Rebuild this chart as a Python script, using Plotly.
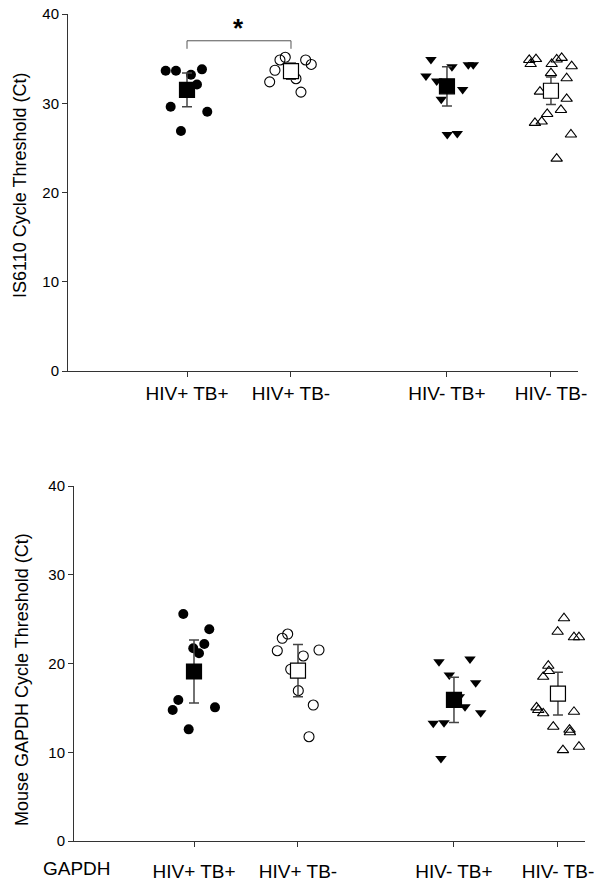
import plotly.graph_objects as go

W, H = 604, 884

categories = ["HIV+ TB+", "HIV+ TB-", "HIV- TB+", "HIV- TB-"]
cat_pos = [1, 2, 3.5, 4.5]

# ---- IS6110 (top panel) ----
is_hpt_pos_vals = [33.65, 33.65, 33.8, 33.2, 32.1, 29.6, 29.05, 26.9]
is_hpt_pos_jit = [-0.205, -0.106, 0.144, 0.038, 0.096, -0.157, 0.195, -0.058]
is_hpt_neg_vals = [34.85, 35.15, 34.85, 34.35, 33.7, 32.4, 32.75, 31.25]
is_hpt_neg_jit = [-0.106, -0.055, 0.141, 0.195, -0.154, -0.205, 0.048, 0.096]
is_hmt_pos_vals = [34.9, 34.1, 34.3, 34.3, 33.05, 32.5, 31.55, 30.45, 26.5, 26.6]
is_hmt_pos_jit = [-0.154, 0.048, 0.205, 0.253, -0.202, -0.099, 0.151, -0.055, 0.003, 0.099]
is_hmt_neg_vals = [34.85, 34.4, 34.95, 34.4, 34.9, 35.08, 34.15, 33.37, 32.8, 31.3,
                   30.5, 28.8, 29.25, 27.8, 27.95, 26.5, 23.8]
is_hmt_neg_jit = [-0.209, -0.195, -0.144, 0.007, 0.055, 0.103, 0.199, 0.0, 0.151, -0.106,
                  0.151, -0.036, 0.096, -0.154, -0.089, 0.192, 0.055]
is_means = [31.5, 33.6, 31.9, 31.4]
is_errs = [1.9, 0.9, 2.2, 1.55]

# ---- GAPDH (bottom panel) ----
ga_hpt_pos_vals = [25.58, 23.85, 22.2, 21.71, 21.15, 15.89, 14.76, 15.06, 12.58]
ga_hpt_pos_jit = [-0.103, 0.147, 0.099, -0.007, 0.048, -0.151, -0.205, 0.202, -0.051]
ga_hpt_neg_vals = [23.32, 22.84, 21.44, 20.85, 21.52, 19.35, 16.94, 15.32, 11.75]
ga_hpt_neg_jit = [-0.099, -0.151, -0.199, 0.051, 0.202, -0.07, 0.003, 0.147, 0.106]
ga_hmt_pos_vals = [20.2, 20.5, 18.7, 17.84, 15.13, 14.46, 13.26, 13.33, 16.26, 9.3]
ga_hmt_pos_jit = [-0.144, 0.154, -0.045, 0.209, 0.106, 0.257, -0.199, -0.096, 0.051, -0.125]
ga_hmt_neg_vals = [25.1, 23.58, 22.96, 22.96, 19.75, 19.15, 18.5, 15.06, 14.76, 14.39,
                   14.56, 12.88, 12.54, 12.26, 10.24, 10.62]
ga_hmt_neg_jit = [0.058, -0.003, 0.154, 0.202, -0.093, -0.087, -0.142, -0.206, -0.19, -0.142,
                  0.154, -0.045, 0.111, 0.115, 0.048, 0.202]
ga_means = [19.1, 19.2, 15.9, 16.6]
ga_errs = [3.55, 2.95, 2.55, 2.4]

# significance bracket (top panel, between the two HIV+ groups)
sig_level = 37.0
sig_drop = 0.9
sig_label = "<b>*</b>"

y_ticks = [0, 10, 20, 30, 40]
top_ytitle = "IS6110 Cycle Threshold (Ct)"
bot_ytitle = "Mouse GAPDH Cycle Threshold (Ct)"
bot_corner_label = "GAPDH"

FONT = "Arial, Liberation Sans, sans-serif"
INK = "#000000"
AXC = "#333333"
ERRC = "#444444"

symbols_pts = ["circle", "circle-open", "triangle-down", "triangle-up-open"]
sizes_pts = [10, 10, 10, 10]
fill_mean = ["black", "white", "black", "white"]


def px_x(p):
    return p / W


def px_y(p):
    return 1 - p / H


fig = go.Figure()

panels = [
    ("x", "y",
     [(is_hpt_pos_vals, is_hpt_pos_jit), (is_hpt_neg_vals, is_hpt_neg_jit),
      (is_hmt_pos_vals, is_hmt_pos_jit), (is_hmt_neg_vals, is_hmt_neg_jit)],
     is_means, is_errs),
    ("x2", "y2",
     [(ga_hpt_pos_vals, ga_hpt_pos_jit), (ga_hpt_neg_vals, ga_hpt_neg_jit),
      (ga_hmt_pos_vals, ga_hmt_pos_jit), (ga_hmt_neg_vals, ga_hmt_neg_jit)],
     ga_means, ga_errs),
]

for xa, ya, groups, means, errs in panels:
    for gi, (vals, jit) in enumerate(groups):
        sym = symbols_pts[gi]
        is_open = sym.endswith("open")
        fig.add_trace(go.Scatter(
            x=[cat_pos[gi] + j for j in jit], y=vals, mode="markers",
            xaxis=xa, yaxis=ya, showlegend=False, hoverinfo="skip",
            marker=dict(symbol=sym, size=sizes_pts[gi], color=INK,
                        line=dict(color=INK, width=1.1 if is_open else 0)),
        ))
    for gi in range(4):
        fig.add_trace(go.Scatter(
            x=[cat_pos[gi]], y=[means[gi]], mode="markers",
            xaxis=xa, yaxis=ya, showlegend=False, hoverinfo="skip",
            error_y=dict(type="data", array=[errs[gi]], visible=True,
                         color=ERRC, thickness=1.5, width=5),
            marker=dict(symbol="square", size=15, color=fill_mean[gi],
                        line=dict(color=INK, width=1.2)),
        ))

# significance bracket
fig.add_trace(go.Scatter(
    x=[cat_pos[0], cat_pos[0], cat_pos[1], cat_pos[1]],
    y=[sig_level - sig_drop, sig_level, sig_level, sig_level - sig_drop],
    mode="lines", line=dict(color="#555555", width=1),
    xaxis="x", yaxis="y", showlegend=False, hoverinfo="skip",
))

xr = [-0.202, 4.76]

axis_common = dict(showgrid=False, zeroline=False, showline=True, linecolor=AXC,
                   linewidth=1, ticks="outside", tickcolor=AXC, ticklen=5)

fig.update_layout(
    width=W, height=H,
    margin=dict(l=0, r=0, t=0, b=0, autoexpand=False),
    paper_bgcolor="white", plot_bgcolor="white",
    font=dict(family=FONT, color=INK),
    xaxis=dict(domain=[px_x(62), px_x(578)], range=xr, anchor="y",
               tickvals=cat_pos, ticktext=categories,
               tickfont=dict(size=19, family=FONT, color=INK),
               **axis_common),
    yaxis=dict(domain=[px_y(371), px_y(14)], range=[0, 40], anchor="free",
               position=px_x(67), tickvals=y_ticks,
               tickfont=dict(size=15, family=FONT, color=INK),
               **axis_common),
    xaxis2=dict(domain=[px_x(69), px_x(585)], range=xr, anchor="y2",
                tickvals=cat_pos, ticktext=categories,
                tickfont=dict(size=19, family=FONT, color=INK),
                ticklabelstandoff=8,
                **axis_common),
    yaxis2=dict(domain=[px_y(841), px_y(486)], range=[0, 40], anchor="free",
                position=px_x(73), tickvals=y_ticks,
                tickfont=dict(size=15, family=FONT, color=INK),
                **axis_common),
)

fig.add_annotation(text=sig_label, x=(cat_pos[0] + cat_pos[1]) / 2, y=sig_level,
                   xref="x", yref="y", yanchor="bottom", showarrow=False,
                   font=dict(size=26, family=FONT, color=INK), yshift=-4)
fig.add_annotation(text=top_ytitle, textangle=-90, x=px_x(20), y=px_y(186),
                   xref="paper", yref="paper", xanchor="center", yanchor="middle",
                   showarrow=False, font=dict(size=18, family=FONT, color=INK))
fig.add_annotation(text=bot_ytitle, textangle=-90, x=px_x(22), y=px_y(680),
                   xref="paper", yref="paper", xanchor="center", yanchor="middle",
                   showarrow=False, font=dict(size=18, family=FONT, color=INK))
fig.add_annotation(text=bot_corner_label, x=px_x(77), y=px_y(868),
                   xref="paper", yref="paper", xanchor="center", yanchor="middle",
                   showarrow=False, font=dict(size=19, family=FONT, color=INK))

fig.write_html(
    "out.html",
    config={"displayModeBar": False},
    post_script="document.body.style.margin='0';document.body.style.overflow='hidden';",
)
